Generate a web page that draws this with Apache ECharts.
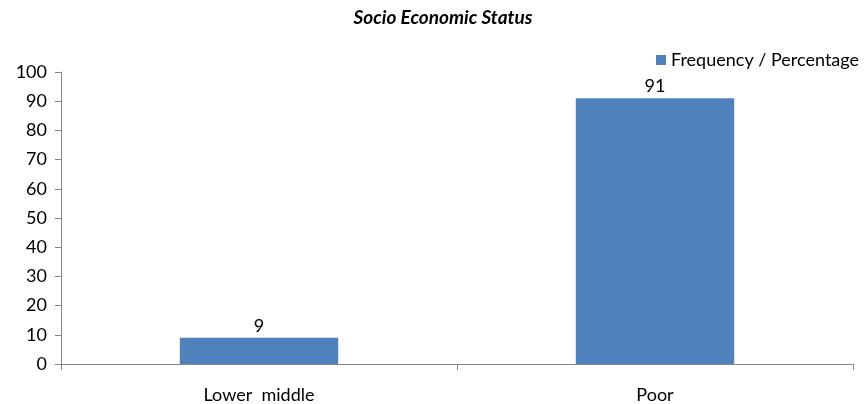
<!DOCTYPE html>
<html><head><meta charset="utf-8">
<script src="https://cdn.jsdelivr.net/npm/echarts@6/dist/echarts.min.js"></script>
<style>html,body{margin:0;padding:0;background:#fff}#c{width:864px;height:404px}</style>
</head><body><div id="c"></div>
<script>
const categories = ['Lower  middle', 'Poor'];
const values = [9, 91];
const seriesName = 'Frequency / Percentage';
const chart = echarts.init(document.getElementById('c'));
const font = 'Lato';
chart.setOption({
  animation: false,
  title: { text: 'Socio Economic Status', left: 438, top: 3, textAlign: 'center',
    textStyle: { fontFamily: font, fontSize: 19, fontWeight: 'bold', fontStyle: 'italic', color: '#000' } },
  legend: { data: [seriesName], right: 0, top: 46, itemWidth: 10, itemHeight: 10, itemGap: 5,
    icon: 'rect', textStyle: { fontFamily: font, fontSize: 18, color: '#000', padding: [0,0,0,0] } },
  grid: { left: 61, right: 11, top: 72, bottom: 40, containLabel: false },
  xAxis: { type: 'category', data: categories,
    axisLine: { lineStyle: { color: '#868686' } },
    axisTick: { show: true, alignWithLabel: false, length: 6, lineStyle: { color: '#868686' } },
    axisLabel: { fontFamily: font, fontSize: 18, color: '#000', margin: 22 } },
  yAxis: { type: 'value', min: 0, max: 100, interval: 10,
    axisLine: { show: true, lineStyle: { color: '#868686' } },
    axisTick: { show: true, length: 6, lineStyle: { color: '#868686' } },
    splitLine: { show: false },
    axisLabel: { fontFamily: font, fontSize: 18, color: '#000', margin: 14 } },
  series: [{ name: seriesName, type: 'bar', data: values, barWidth: '40%',
    itemStyle: { color: '#4F81BD' },
    label: { show: true, position: 'top', fontFamily: font, fontSize: 18, color: '#000', distance: 3 } }]
});
</script></body></html>
